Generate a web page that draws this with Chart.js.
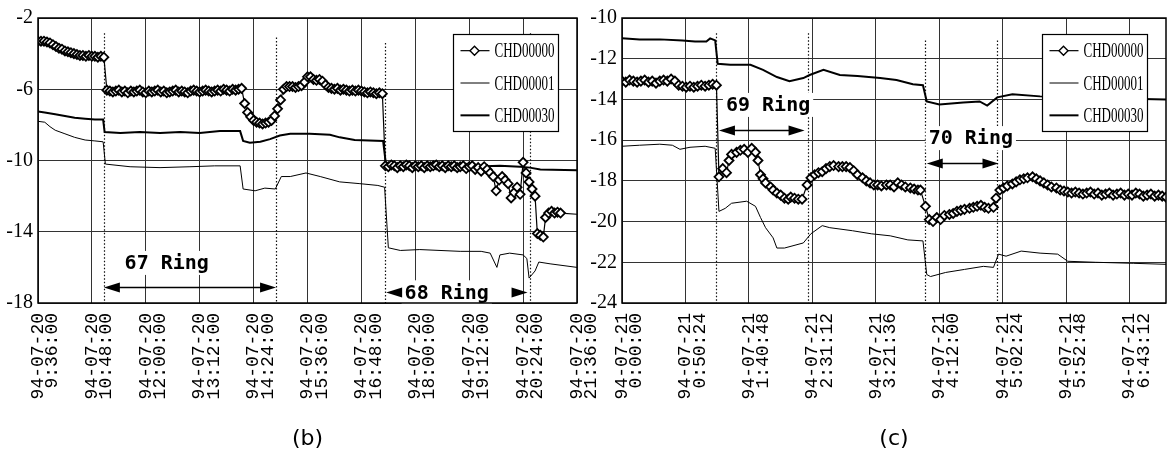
<!DOCTYPE html>
<html>
<head>
<meta charset="utf-8">
<script src="https://cdn.jsdelivr.net/npm/chart.js@4.4.1/dist/chart.umd.min.js"></script>
<style>
  html, body { margin: 0; padding: 0; background: #fff; }
  #wrap { position: relative; width: 1175px; height: 460px; overflow: hidden; }
  canvas { position: absolute; top: 0; }
  #chartB { left: 0; }
  #chartC { left: 578px; }
</style>
</head>
<body>
<div id="wrap">
  <canvas id="chartB" width="600" height="460"></canvas>
  <canvas id="chartC" width="597" height="460"></canvas>
</div>
<script>
const seriesNames = ['CHD00000', 'CHD00001', 'CHD00030']

// panel (b): minutes after 94-07-20 9:36:00
const bTicks = [0, 72, 144, 216, 288, 360, 432, 504, 576, 648, 720]
const bTickLabels = [
  ['94-07-20', '9:36:00'], ['94-07-20', '10:48:00'], ['94-07-20', '12:00:00'],
  ['94-07-20', '13:12:00'], ['94-07-20', '14:24:00'], ['94-07-20', '15:36:00'],
  ['94-07-20', '16:48:00'], ['94-07-20', '18:00:00'], ['94-07-20', '19:12:00'],
  ['94-07-20', '20:24:00'], ['94-07-20', '21:36:00']
]
const b0Time = [
  0, 4, 8, 12, 16, 20, 24, 28, 32, 36, 40, 44, 48, 52, 56, 60, 64, 68, 72, 76, 80, 84, 88,
  92, 96, 100, 104, 108, 112, 116, 120, 124, 128, 132, 136, 140, 144, 148, 152, 156, 160,
  164, 168, 172, 176, 180, 184, 188, 192, 196, 200, 204, 208, 212, 216, 220, 224, 228, 232,
  236, 240, 244, 248, 252, 256, 260, 264, 268, 272,
  276, 280, 284, 288, 292, 296, 300, 304, 308, 312, 316, 320, 324, 328, 332,
  336, 340, 344, 348, 352, 356, 360, 364, 368, 372, 376, 380, 384, 388, 392, 396, 400,
  404, 408, 412, 416, 420, 424, 428, 432, 436, 440, 444, 448, 452, 456, 460,
  464, 468, 472, 476, 480, 484, 488, 492, 496, 500, 504, 508, 512, 516, 520, 524, 528,
  532, 536, 540, 544, 548, 552, 556, 560, 564, 568, 572, 576, 580, 584, 588, 592, 596,
  600, 604, 608, 612, 616, 620, 624, 628, 632, 636, 640, 644, 648, 652, 656, 660, 664,
  667, 671, 675, 678, 682, 686, 690, 694, 698, 730
]
const b0Val = [
  -3.3, -3.3, -3.3, -3.35, -3.4, -3.5, -3.6, -3.7, -3.75, -3.85, -3.9, -3.95, -4.0, -4.05,
  -4.1, -4.1, -4.15, -4.1, -4.15, -4.15, -4.2, -4.15, -4.2,
  -6.05, -6.1, -6.15, -6.1, -6.05, -6.15, -6.1, -6.2, -6.1, -6.15,
  -6.1, -6.05, -6.15, -6.2, -6.1, -6.15, -6.1, -6.05, -6.15, -6.1,
  -6.2, -6.15, -6.1, -6.05, -6.15, -6.1, -6.15, -6.2, -6.1, -6.05,
  -6.1, -6.15, -6.1, -6.05, -6.1, -6.15, -6.1, -6.05, -6.1, -6.0,
  -6.05, -6.1, -6.0, -6.05, -6.0, -5.95,
  -6.8, -7.3, -7.55, -7.75, -7.85, -7.9, -7.95, -7.9, -7.85, -7.75, -7.5, -7.1, -6.6, -6.0, -5.85,
  -5.85, -5.85, -5.9, -5.85, -5.8, -5.6, -5.3, -5.3, -5.45, -5.5,
  -5.45, -5.55, -5.75, -5.9, -5.95, -6.0, -5.95, -6.05, -6.0, -6.05,
  -6.1, -6.05, -6.1, -6.05, -6.1, -6.15, -6.2, -6.15, -6.2, -6.25, -6.2, -6.25,
  -10.3, -10.35, -10.25, -10.3, -10.4, -10.3, -10.35, -10.25, -10.3, -10.4,
  -10.3, -10.35, -10.3, -10.4, -10.3, -10.35, -10.3, -10.25, -10.35, -10.3,
  -10.4, -10.3, -10.35, -10.3, -10.4, -10.35, -10.3, -10.45, -10.35, -10.3,
  -10.5, -10.4, -10.6, -10.35, -10.5, -10.7, -10.9, -11.7, -11.1, -10.9,
  -11.1, -11.3, -12.1, -11.8, -11.5, -11.9, -10.1, -10.7, -11.2, -11.6, -12.0,
  -14.1, -14.2, -14.3, -13.2, -12.95, -12.85, -12.95, -12.9, -12.95, -13.05
]
const b1Time = [
  0, 9, 16, 23, 36, 49, 63, 76, 87, 90, 123, 163, 203, 236, 270, 274, 290, 303, 317, 325,
  337, 358, 377, 403, 430, 454, 463, 468, 484, 510, 537, 564, 592, 604, 613, 617, 630, 648,
  653, 656, 664, 669, 684, 720
]
const b1Val = [
  -7.8, -7.85, -8.1, -8.3, -8.5, -8.7, -8.85, -8.9, -8.95, -10.2, -10.35, -10.4, -10.35,
  -10.3, -10.3, -11.6, -11.7, -11.55, -11.6, -10.9, -10.9, -10.7, -10.9, -11.2, -11.3,
  -11.4, -11.5, -14.9, -15.05, -15.0, -15.05, -15.1, -15.1, -15.2, -16.0, -15.3, -15.2,
  -15.3, -15.5, -16.6, -16.2, -15.7, -15.8, -16.0
]
const b30Time = [
  0, 9, 23, 36, 49, 63, 76, 87, 89, 110, 136, 163, 190, 216, 243, 270, 274, 283, 297, 310,
  323, 337, 363, 390, 403, 423, 461, 465, 510, 577, 617, 644, 657, 671, 720
]
const b30Val = [
  -7.25, -7.3, -7.4, -7.5, -7.6, -7.65, -7.7, -7.7, -8.4, -8.45, -8.4, -8.45, -8.4, -8.45,
  -8.35, -8.35, -8.9, -9.0, -8.95, -8.8, -8.6, -8.5, -8.5, -8.55, -8.7, -8.85, -8.9,
  -10.3, -10.3, -10.35, -10.3, -10.35, -10.4, -10.5, -10.55
]
// ring boundaries (dotted lines) and ring arrows, panel (b)
const bMarks = [88, 318, 464, 657]
const bMarkTops = [-2.85, -3.1, -3.4, -2.85]
const bRingText = ['67 Ring', '68 Ring']
const bRingTextAt = [[172, -15.75], [546, -17.4]]
const bRingArrow = [[88, 318, -17.1], [465, 654, -17.4]]
const bRingShaft = [true, false]

// panel (c): minutes after 94-07-21 0:00:00
const cTicks = [0, 50.4, 100.8, 151.2, 201.6, 252, 302.4, 352.8, 403.2]
const cTickLabels = [
  ['94-07-21', '0:00:00'], ['94-07-21', '0:50:24'], ['94-07-21', '1:40:48'],
  ['94-07-21', '2:31:12'], ['94-07-21', '3:21:36'], ['94-07-21', '4:12:00'],
  ['94-07-21', '5:02:24'], ['94-07-21', '5:52:48'], ['94-07-21', '6:43:12']
]
const c0Time = [
  0, 3, 6, 9, 12, 15, 18, 21, 24, 27, 30, 33, 36, 39, 42, 45, 48, 51, 54, 57, 60, 63, 66,
  69, 72, 75,
  77, 80, 83, 85, 87, 91, 94, 97, 100, 103, 106, 108, 110, 112, 114, 118, 120, 123, 126,
  129, 132, 134, 137, 140, 143, 147, 150, 153, 156, 159, 162, 165, 168, 172, 175, 178, 181,
  184, 187, 191, 194, 197, 200, 203, 206, 210, 213, 216, 219, 222, 225, 229, 232, 235, 237,
  241, 244, 247, 250, 253, 256, 260, 263, 266, 269, 272, 276, 279, 282, 285, 288, 291, 295,
  297, 300, 303, 306, 310, 313, 316, 319, 322, 326, 329, 332, 335, 338, 341, 345, 348, 351,
  354, 357, 360, 363, 366, 369, 372, 375, 378, 381, 384, 387, 390, 393, 396, 399, 402, 405,
  408, 411, 414, 417, 420, 423, 426, 429, 432
]
const c0Val = [
  -13.1, -13.15, -13.05, -13.1, -13.15, -13.1, -13.05, -13.15, -13.1, -13.2,
  -13.1, -13.05, -13.1, -13.0, -13.1, -13.3, -13.35, -13.4, -13.35, -13.4,
  -13.35, -13.3, -13.35, -13.3, -13.25, -13.3,
  -17.8, -17.4, -17.6, -17.0, -16.7, -16.6, -16.5, -16.45, -16.6, -16.4, -16.6, -17.0,
  -17.7, -17.9, -18.1, -18.3, -18.45, -18.6, -18.7, -18.85, -18.9, -18.8, -18.85, -18.9,
  -18.9, -18.2, -17.85, -17.7, -17.6, -17.55, -17.4, -17.3, -17.25, -17.3, -17.3, -17.3,
  -17.35, -17.5, -17.7, -17.85, -18.0, -18.1, -18.2, -18.2, -18.25, -18.2, -18.2, -18.3,
  -18.1, -18.2, -18.3, -18.35, -18.4, -18.45, -18.45,
  -19.25, -19.9, -20.0, -19.8, -19.9, -19.7, -19.65, -19.6, -19.5, -19.45, -19.4, -19.35,
  -19.3, -19.25, -19.2, -19.3, -19.35, -19.3,
  -18.85, -18.45, -18.35, -18.25, -18.15, -18.05, -17.95, -17.9, -17.85, -17.8, -17.9,
  -18.0, -18.1, -18.2, -18.3, -18.35, -18.45, -18.5,
  -18.55, -18.6, -18.55, -18.6, -18.65, -18.6, -18.55, -18.65, -18.6, -18.7, -18.65, -18.6,
  -18.7, -18.65, -18.6, -18.7, -18.65, -18.7, -18.6, -18.65, -18.75, -18.7, -18.65, -18.75,
  -18.7, -18.75, -18.8
]
const c1Time = [
  0, 14, 30, 40, 46, 54, 66, 74, 77, 82, 87, 99, 106, 110, 114, 120, 123, 129, 135, 144,
  150, 159, 165, 183, 198, 213, 227, 239, 242, 245, 257, 272, 287, 295, 299, 305, 317, 332,
  346, 354, 376, 406, 432
]
const c1Val = [
  -16.3, -16.25, -16.2, -16.25, -16.45, -16.35, -16.3, -16.4, -19.5, -19.35, -19.1, -19.0,
  -19.25, -19.8, -20.3, -20.8, -21.3, -21.3, -21.2, -21.05, -20.6, -20.2, -20.3, -20.45,
  -20.6, -20.7, -20.9, -20.95, -22.6, -22.7, -22.5, -22.35, -22.2, -22.25, -21.6, -21.7,
  -21.45, -21.55, -21.6, -21.95, -22.0, -22.05, -22.1
]
const c30Time = [
  0, 14, 30, 48, 58, 67, 70, 74, 76, 86, 102, 112, 123, 133, 144, 149, 160, 173, 187, 205,
  218, 231, 239, 242, 252, 271, 284, 290, 298, 310, 332, 364, 395, 432
]
const c30Val = [
  -11.0, -11.05, -11.05, -11.1, -11.15, -11.15, -11.0, -11.1, -12.25, -12.3, -12.3, -12.55,
  -12.9, -13.1, -12.95, -12.8, -12.55, -12.8, -12.85, -12.95, -13.05, -13.25, -13.3, -14.1,
  -14.25, -14.15, -14.1, -14.3, -13.9, -13.75, -13.85, -13.9, -13.95, -14.0
]
const cMarks = [75, 148, 241, 298]
const cMarkTops = [-10.75, -10.75, -11.1, -11.1]
const cRingText = ['69 Ring', '70 Ring']
const cRingTextAt = [[116, -14.27], [277, -15.9]]
const cRingArrow = [[77, 145, -15.5], [242, 299, -17.12]]
const cRingShaft = [true, true]

const lineWidths = [1.2, 1, 2]

function arrowHead(ctx, tipX, y, dir) {
  ctx.beginPath()
  ctx.moveTo(tipX, y)
  ctx.lineTo(tipX + dir * 16, y - 5)
  ctx.lineTo(tipX + dir * 16, y + 5)
  ctx.closePath()
  ctx.fill()
}

function diamond(ctx, x, y, r) {
  ctx.beginPath()
  ctx.moveTo(x - r, y)
  ctx.lineTo(x, y - r)
  ctx.lineTo(x + r, y)
  ctx.lineTo(x, y + r)
  ctx.closePath()
  ctx.fillStyle = '#fff'
  ctx.fill()
  ctx.stroke()
}

function decor(p) {
  return {
    id: 'decor',
    beforeDatasetsDraw(chart) {
      const { ctx, scales: { x, y } } = chart
      ctx.save()
      ctx.strokeStyle = '#111'
      ctx.lineWidth = 1.2
      ctx.setLineDash([1.5, 2])
      p.marks.forEach((t, i) => {
        const px = Math.round(x.getPixelForValue(t)) + 0.5
        ctx.beginPath()
        ctx.moveTo(px, y.getPixelForValue(p.markTops[i]))
        ctx.lineTo(px, y.bottom)
        ctx.stroke()
      })
      ctx.restore()
    },
    afterDatasetsDraw(chart) {
      const { ctx, scales: { x, y }, chartArea: a } = chart
      ctx.save()
      // ring labels on white ground
      ctx.font = 'bold 20px "DejaVu Sans Mono", monospace'
      ctx.textAlign = 'center'
      ctx.textBaseline = 'middle'
      p.ringText.forEach((txt, i) => {
        const tx = x.getPixelForValue(p.ringTextAt[i][0])
        const ty = y.getPixelForValue(p.ringTextAt[i][1])
        const tw = ctx.measureText(txt).width
        ctx.fillStyle = '#fff'
        ctx.fillRect(tx - tw / 2 - 3, ty - 12, tw + 6, 24)
        ctx.fillStyle = '#000'
        ctx.fillText(txt, tx, ty + 1)
      })
      ctx.fillStyle = '#000'
      ctx.strokeStyle = '#000'
      ctx.lineWidth = 1.5
      p.ringArrow.forEach((ar, i) => {
        const x1 = x.getPixelForValue(ar[0])
        const x2 = x.getPixelForValue(ar[1])
        const ay = Math.round(y.getPixelForValue(ar[2])) + 0.5
        if (p.ringShaft[i]) {
          ctx.beginPath()
          ctx.moveTo(x1 + 10, ay)
          ctx.lineTo(x2 - 10, ay)
          ctx.stroke()
        }
        arrowHead(ctx, x1, ay, 1)
        arrowHead(ctx, x2, ay, -1)
      })
      // frame
      ctx.lineWidth = 1.5
      ctx.strokeRect(a.left, a.top, a.right - a.left, a.bottom - a.top)
      // legend box
      const w = 105, h = 97
      const lx = Math.round(a.right - 19 - w) + 0.5
      const ly = Math.round(a.top + 16) + 0.5
      ctx.fillStyle = '#fff'
      ctx.fillRect(lx, ly, w, h)
      ctx.lineWidth = 1.2
      ctx.strokeRect(lx, ly, w, h)
      chart.data.datasets.forEach((ds, i) => {
        const cy = ly + h / 3 * (i + 0.5)
        ctx.strokeStyle = '#000'
        ctx.lineWidth = ds.borderWidth
        ctx.beginPath()
        ctx.moveTo(lx + 7, cy)
        ctx.lineTo(lx + 36, cy)
        ctx.stroke()
        if (ds.pointRadius > 0) {
          ctx.lineWidth = 1.4
          diamond(ctx, lx + 21, cy, ds.pointRadius)
        }
        ctx.save()
        ctx.translate(lx + 41, cy + 1)
        ctx.scale(0.62, 1)
        ctx.fillStyle = '#000'
        ctx.font = '21px "Liberation Serif", serif'
        ctx.textAlign = 'left'
        ctx.fillText(ds.label, 0, 0)
        ctx.restore()
      })
      ctx.restore()
    }
  }
}

function buildChart(p) {
  const el = document.getElementById(p.canvas)
  return new Chart(el, {
    type: 'line',
    data: {
      datasets: seriesNames.map((name, i) => ({
        label: name,
        data: p.series[i][0].map((t, k) => ({ x: t, y: p.series[i][1][k] })),
        borderColor: '#000',
        borderWidth: lineWidths[i],
        pointRadius: i === 0 ? 4.5 : 0,
        pointStyle: 'rectRot',
        pointBackgroundColor: '#fff',
        pointBorderColor: '#000',
        pointBorderWidth: 1.8,
        tension: 0,
        fill: false
      }))
    },
    options: {
      responsive: false,
      animation: false,
      events: [],
      layout: { padding: { top: 18, right: p.padRight, bottom: 0, left: 0 } },
      plugins: { legend: { display: false }, tooltip: { enabled: false } },
      scales: {
        x: {
          type: 'linear',
          min: p.min,
          max: p.max,
          afterBuildTicks: s => { s.ticks = p.ticks.map(v => ({ value: v })) },
          afterFit: s => {
            s.height = 157
            s.paddingRight = 0
            s.paddingLeft = 0
          },
          grid: { color: '#333', lineWidth: 1, drawTicks: false },
          border: { display: false },
          ticks: {
            autoSkip: false,
            maxRotation: 90,
            minRotation: 90,
            padding: 10,
            color: '#000',
            font: { family: '"Liberation Mono", monospace', size: 18, lineHeight: 0.8 },
            callback: (v, i) => p.tickLabels[i]
          },
          title: {
            display: true,
            text: p.title,
            color: '#000',
            font: { family: '"DejaVu Sans", sans-serif', size: 22, lineHeight: 1.2 },
            padding: { top: 0, bottom: 8 }
          }
        },
        y: {
          min: p.yMin,
          max: p.yMax,
          afterFit: s => { s.width = p.yAxisWidth },
          grid: { color: '#333', lineWidth: 1, drawTicks: false },
          border: { display: false },
          ticks: {
            stepSize: p.yStep,
            padding: 5,
            color: '#000',
            font: { family: '"Liberation Serif", serif', size: 20 }
          }
        }
      }
    },
    plugins: [decor(p)]
  })
}

buildChart({
  canvas: 'chartB', min: 0, max: 720, yMin: -18, yMax: -2, yStep: 4,
  ticks: bTicks, tickLabels: bTickLabels, title: '(b)',
  series: [[b0Time, b0Val], [b1Time, b1Val], [b30Time, b30Val]],
  marks: bMarks, markTops: bMarkTops,
  ringText: bRingText, ringTextAt: bRingTextAt, ringArrow: bRingArrow, ringShaft: bRingShaft,
  yAxisWidth: 38, padRight: 23
})
buildChart({
  canvas: 'chartC', min: 0, max: 432, yMin: -24, yMax: -10, yStep: 2,
  ticks: cTicks, tickLabels: cTickLabels, title: '(c)',
  series: [[c0Time, c0Val], [c1Time, c1Val], [c30Time, c30Val]],
  marks: cMarks, markTops: cMarkTops,
  ringText: cRingText, ringTextAt: cRingTextAt, ringArrow: cRingArrow, ringShaft: cRingShaft,
  yAxisWidth: 44, padRight: 9
})
</script>
</body>
</html>
